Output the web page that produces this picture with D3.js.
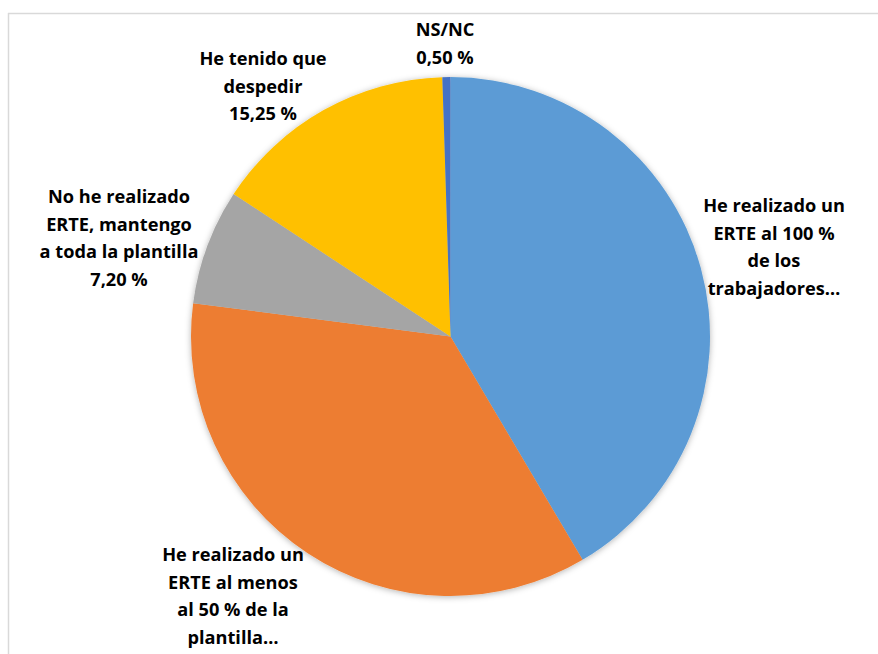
<!DOCTYPE html>
<html>
<head>
<meta charset="utf-8">
<script src="https://cdn.jsdelivr.net/npm/d3@7"></script>
<style>
  html, body { margin: 0; padding: 0; background: #fff; }
  svg { display: block; }
  .lbl { font-family: "Open Sans", Lato, sans-serif; font-weight: 700; font-size: 18.2px; fill: #000; }
</style>
</head>
<body>
<div id="chart"></div>
<script>
// --- Data ---
const categories = [
    'He realizado un ERTE al 100 % de los trabajadores',
    'He realizado un ERTE al menos al 50 % de la plantilla',
    'No he realizado ERTE, mantengo a toda la plantilla',
    'He tenido que despedir',
    'NS/NC'
];
const values = [41.50, 35.55, 7.20, 15.25, 0.50];
const colors = ['#5B9BD5', '#ED7D31', '#A5A5A5', '#FFC000', '#4472C4'];
// label text as shown (long ones truncated by the chart)
const labelLines = [
    ['He realizado un', 'ERTE al 100 %', 'de los', 'trabajadores…'],
    ['He realizado un', 'ERTE al menos', 'al 50 % de la', 'plantilla…'],
    ['No he realizado', 'ERTE, mantengo', 'a toda la plantilla', null],
    ['He tenido que', 'despedir', null],
    ['NS/NC', null]
];

// --- Layout ---
const W = 878, H = 654;
const cx = 450.5, cy = 336.5, R = 259.5;
const lineGap = 27.5;
// label anchor: centre x, first baseline y
const labelPos = [[774, 212], [233, 561], [119, 203], [263, 65], [445, 36]];

const fmt = v => d3.format('.2f')(v).replace('.', ',') + ' %';

const svg = d3.select('#chart').append('svg').attr('width', W).attr('height', H);

const defs = svg.append('defs');
const f = defs.append('filter').attr('id', 'shadow')
    .attr('x', '-10%').attr('y', '-10%').attr('width', '120%').attr('height', '120%');
f.append('feDropShadow').attr('dx', 0).attr('dy', 1).attr('stdDeviation', 3)
    .attr('flood-color', '#000').attr('flood-opacity', 0.3);

// chart area frame (only top and left edges are in view)
svg.append('line').attr('x1', 8.5).attr('x2', 8.5).attr('y1', 13).attr('y2', H)
    .attr('stroke', '#d9d9d9').attr('stroke-width', 1.5);
svg.append('line').attr('x1', 8).attr('x2', W).attr('y1', 13.5).attr('y2', 13.5)
    .attr('stroke', '#d9d9d9').attr('stroke-width', 1.5);

const pie = d3.pie().sort(null).value(d => d)(values);
const arc = d3.arc().innerRadius(0).outerRadius(R);

const g = svg.append('g').attr('transform', `translate(${cx},${cy})`);
g.append('g').attr('filter', 'url(#shadow)')
    .selectAll('path').data(pie).join('path')
    .attr('d', arc)
    .attr('fill', (d, i) => colors[i]);

// --- Labels ---
labelLines.forEach((lines, i) => {
    const t = svg.append('text').attr('class', 'lbl')
        .attr('text-anchor', 'middle')
        .attr('x', labelPos[i][0]).attr('y', labelPos[i][1]);
    lines.forEach((ln, j) => {
        t.append('tspan')
            .attr('x', labelPos[i][0])
            .attr('dy', j === 0 ? 0 : lineGap)
            .text(ln === null ? fmt(values[i]) : ln);
    });
});
</script>
</body>
</html>
